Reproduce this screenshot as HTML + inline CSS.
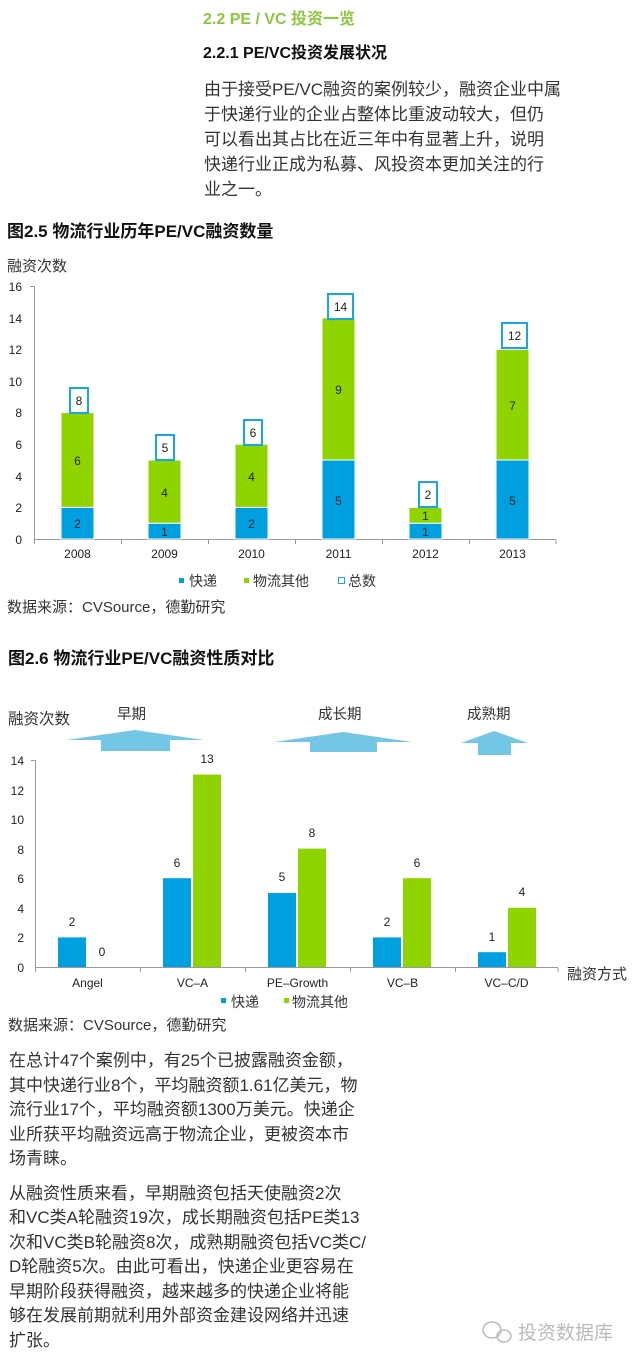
<!DOCTYPE html>
<html><head><meta charset="utf-8"><style>
html,body{margin:0;padding:0;background:#fff;}
svg{display:block;font-family:"Liberation Sans","Noto Sans CJK SC",sans-serif;}
.p{font-size:17px;fill:#333;}
.t{font-size:12px;fill:#222;}
.b{font-weight:bold;fill:#111;}
</style></head><body>
<svg width="640" height="1362" viewBox="0 0 640 1362" xmlns="http://www.w3.org/2000/svg">
<text x="203" y="24" font-size="16" font-weight="bold" fill="#8cc63f">2.2 PE / VC 投资一览</text>
<text x="203" y="58" font-size="16" class="b">2.2.1 PE/VC投资发展状况</text>
<g class="p" font-size="16.3">
<text x="204" y="95">由于接受PE/VC融资的案例较少，融资企业中属</text>
<text x="204" y="120">于快递行业的企业占整体比重波动较大，但仍</text>
<text x="204" y="145">可以看出其占比在近三年中有显著上升，说明</text>
<text x="204" y="170">快递行业正成为私募、风投资本更加关注的行</text>
<text x="204" y="195">业之一。</text>
</g>
<text x="7" y="237" font-size="17" class="b">图2.5  物流行业历年PE/VC融资数量</text>
<text x="7" y="271" font-size="15" fill="#333">融资次数</text>
<!-- chart1 -->
<g class="t" text-anchor="end">
<text x="22" y="291">16</text><text x="22" y="323">14</text><text x="22" y="354">12</text><text x="22" y="386">10</text><text x="22" y="417">8</text><text x="22" y="449">6</text><text x="22" y="481">4</text><text x="22" y="512">2</text><text x="22" y="544">0</text>
</g>
<g stroke="#999" stroke-width="1">
<line x1="34.5" y1="286" x2="34.5" y2="540"/>
<line x1="34" y1="539.5" x2="556" y2="539.5"/>
<line x1="30" y1="286.5" x2="34" y2="286.5"/>
<line x1="34.5" y1="540" x2="34.5" y2="544"/><line x1="121.5" y1="540" x2="121.5" y2="544"/><line x1="208.5" y1="540" x2="208.5" y2="544"/><line x1="295.5" y1="540" x2="295.5" y2="544"/><line x1="382.5" y1="540" x2="382.5" y2="544"/><line x1="469.5" y1="540" x2="469.5" y2="544"/><line x1="556" y1="540" x2="556" y2="544"/>
</g>
<g stroke="#fff" stroke-width="1">
<rect x="61" y="507.4" width="33" height="31.6" fill="#00a0e0"/><rect x="61" y="412.6" width="33" height="94.8" fill="#8fd400"/>
<rect x="148" y="523.2" width="33" height="15.8" fill="#00a0e0"/><rect x="148" y="460" width="33" height="63.2" fill="#8fd400"/>
<rect x="235" y="507.4" width="33" height="31.6" fill="#00a0e0"/><rect x="235" y="444.2" width="33" height="63.2" fill="#8fd400"/>
<rect x="322" y="460" width="33" height="79" fill="#00a0e0"/><rect x="322" y="317.8" width="33" height="142.2" fill="#8fd400"/>
<rect x="409" y="523.2" width="33" height="15.8" fill="#00a0e0"/><rect x="409" y="507.4" width="33" height="15.8" fill="#8fd400"/>
<rect x="496" y="460" width="33" height="79" fill="#00a0e0"/><rect x="496" y="349.4" width="33" height="110.6" fill="#8fd400"/>
</g>
<g class="t" text-anchor="middle" font-size="13">
<text x="77.5" y="528">2</text><text x="77.5" y="465">6</text>
<text x="164.5" y="536">1</text><text x="164.5" y="497">4</text>
<text x="251.5" y="528">2</text><text x="251.5" y="481">4</text>
<text x="338.5" y="505">5</text><text x="338.5" y="394">9</text>
<text x="425.5" y="536">1</text><text x="425.5" y="520">1</text>
<text x="512.5" y="505">5</text><text x="512.5" y="410">7</text>
</g>
<g fill="#fff" stroke="#1aa6e0" stroke-width="2">
<rect x="70" y="388" width="18" height="25"/><rect x="156" y="435" width="18" height="25"/><rect x="244" y="420" width="18" height="25"/>
<rect x="328" y="294" width="25" height="25"/><rect x="419" y="482" width="18" height="25"/><rect x="502" y="323" width="25" height="25"/>
</g>
<g class="t" text-anchor="middle" font-size="13">
<text x="79" y="405">8</text><text x="165" y="452">5</text><text x="253" y="437">6</text><text x="340.5" y="311">14</text><text x="428" y="499">2</text><text x="514.5" y="340">12</text>
</g>
<g class="t" text-anchor="middle" font-size="13"><text x="77.5" y="558">2008</text><text x="164.5" y="558">2009</text><text x="251.5" y="558">2010</text><text x="338.5" y="558">2011</text><text x="425.5" y="558">2012</text><text x="512.5" y="558">2013</text></g>
<rect x="179" y="578" width="5" height="5" fill="#00a0e0"/><text x="189" y="586" font-size="14" fill="#333">快递</text>
<rect x="244" y="578" width="5" height="5" fill="#8fd400"/><text x="253" y="586" font-size="14" fill="#333">物流其他</text>
<rect x="338.5" y="577.5" width="6" height="6" fill="none" stroke="#1aa6e0"/><text x="348" y="586" font-size="14" fill="#333">总数</text>
<text x="7" y="612" font-size="15" fill="#333">数据来源：CVSource，德勤研究</text>
<!-- chart2 -->
<text x="8" y="664" font-size="17" class="b">图2.6  物流行业PE/VC融资性质对比</text>
<text x="8" y="724" font-size="15.5" fill="#333">融资次数</text>
<g font-size="14.5" fill="#333"><text x="117" y="719">早期</text><text x="318" y="719">成长期</text><text x="467" y="719">成熟期</text></g>
<g fill="#74c6e6">
<polygon points="66,740 135,730 204,740 170,740 170,751 101,751 101,740"/>
<polygon points="274,742 343,732 412,742 377,742 377,752 310,752 310,742"/>
<polygon points="461,743 494,731 528,743 511,743 511,755 478,755 478,743"/>
</g>
<g class="t" text-anchor="end">
<text x="24" y="765">14</text><text x="24" y="795">12</text><text x="24" y="824">10</text><text x="24" y="854">8</text><text x="24" y="883">6</text><text x="24" y="913">4</text><text x="24" y="942">2</text><text x="24" y="972">0</text>
</g>
<g stroke="#999" stroke-width="1">
<line x1="35.5" y1="760" x2="35.5" y2="968"/>
<line x1="31" y1="760.5" x2="35" y2="760.5"/>
<line x1="35" y1="967.5" x2="558" y2="967.5"/>
<line x1="35.5" y1="968" x2="35.5" y2="972"/><line x1="140.5" y1="968" x2="140.5" y2="972"/><line x1="245.5" y1="968" x2="245.5" y2="972"/><line x1="350.5" y1="968" x2="350.5" y2="972"/><line x1="455.5" y1="968" x2="455.5" y2="972"/><line x1="558" y1="968" x2="558" y2="972"/>
</g>
<g>
<rect x="58" y="937.4" width="28" height="29.6" fill="#00a0e0"/>
<rect x="163" y="878.2" width="28" height="88.8" fill="#00a0e0"/><rect x="193" y="774.6" width="28" height="192.4" fill="#8fd400"/>
<rect x="268" y="893" width="28" height="74" fill="#00a0e0"/><rect x="298" y="848.6" width="28" height="118.4" fill="#8fd400"/>
<rect x="373" y="937.4" width="28" height="29.6" fill="#00a0e0"/><rect x="403" y="878.2" width="28" height="88.8" fill="#8fd400"/>
<rect x="478" y="952.2" width="28" height="14.8" fill="#00a0e0"/><rect x="508" y="907.8" width="28" height="59.2" fill="#8fd400"/>
</g>
<g class="t" text-anchor="middle" font-size="13">
<text x="72" y="926">2</text><text x="102" y="956">0</text>
<text x="177" y="867">6</text><text x="207" y="763">13</text>
<text x="282" y="881">5</text><text x="312" y="837">8</text>
<text x="387" y="926">2</text><text x="417" y="867">6</text>
<text x="492" y="941">1</text><text x="522" y="896">4</text>
</g>
<g class="t" text-anchor="middle" font-size="13"><text x="87.5" y="987">Angel</text><text x="192.5" y="987">VC–A</text><text x="297.5" y="987">PE–Growth</text><text x="402.5" y="987">VC–B</text><text x="506.5" y="987">VC–C/D</text></g>
<text x="567" y="979" font-size="15" fill="#333">融资方式</text>
<rect x="221" y="998" width="5" height="5" fill="#00a0e0"/><text x="231" y="1007" font-size="14" fill="#333">快递</text>
<rect x="284" y="998" width="5" height="5" fill="#8fd400"/><text x="292" y="1007" font-size="14" fill="#333">物流其他</text>
<text x="8" y="1030" font-size="15" fill="#333">数据来源：CVSource，德勤研究</text>
<g class="p" font-size="17.3">
<text x="9" y="1066">在总计47个案例中，有25个已披露融资金额，</text>
<text x="9" y="1091">其中快递行业8个，平均融资额1.61亿美元，物</text>
<text x="9" y="1115">流行业17个，平均融资额1300万美元。快递企</text>
<text x="9" y="1140">业所获平均融资远高于物流企业，更被资本市</text>
<text x="9" y="1164">场青睐。</text>
<text x="9" y="1199">从融资性质来看，早期融资包括天使融资2次</text>
<text x="9" y="1223">和VC类A轮融资19次，成长期融资包括PE类13</text>
<text x="9" y="1248">次和VC类B轮融资8次，成熟期融资包括VC类C/</text>
<text x="9" y="1272">D轮融资5次。由此可看出，快递企业更容易在</text>
<text x="9" y="1297">早期阶段获得融资，越来越多的快递企业将能</text>
<text x="9" y="1321">够在发展前期就利用外部资金建设网络并迅速</text>
<text x="9" y="1346">扩张。</text>
</g>
<g fill="none" stroke="#bbb" stroke-width="1.5"><ellipse cx="492" cy="1330" rx="9" ry="8"/><ellipse cx="504" cy="1336" rx="7" ry="6"/></g>
<text x="518" y="1339" font-size="19" fill="#bbb">投资数据库</text>
</svg>
</body></html>
